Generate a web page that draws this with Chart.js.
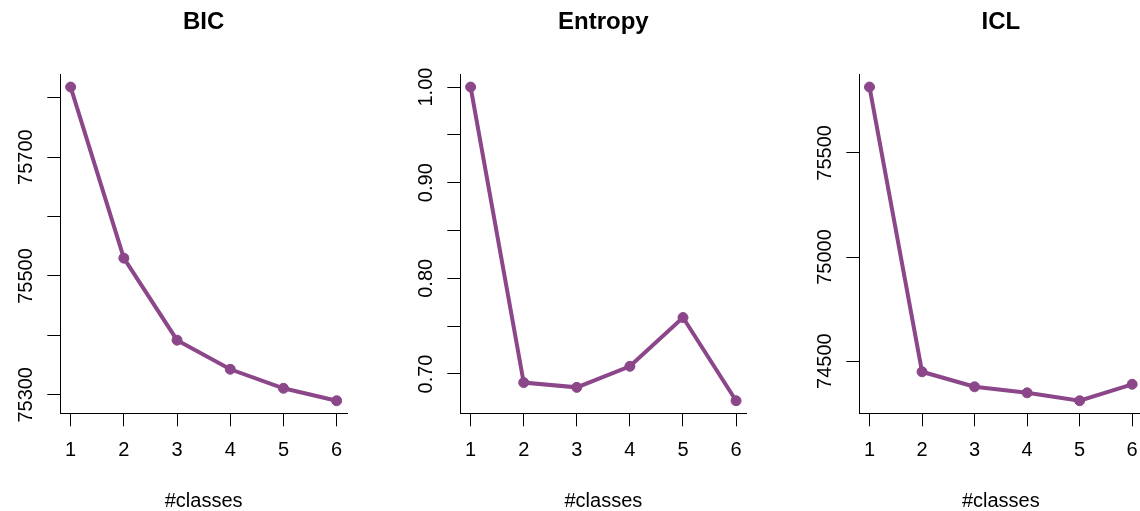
<!DOCTYPE html>
<html>
<head>
<meta charset="utf-8">
<script src="https://cdn.jsdelivr.net/npm/chart.js@4"></script>
<style>
  html, body { margin: 0; padding: 0; background: #fff; overflow: hidden; width: 1140px; height: 511px; }
  canvas { position: absolute; top: 0; }
</style>
</head>
<body>
<canvas id="bic" width="380" height="511" style="left:0px"></canvas>
<canvas id="entropy" width="380" height="511" style="left:380px"></canvas>
<canvas id="icl" width="390" height="511" style="left:760px"></canvas>
<script>
const classes = [1, 2, 3, 4, 5, 6];
const bicValues = [75818, 75530, 75392, 75343, 75311, 75290];
const entropyValues = [1.000, 0.691, 0.686, 0.708, 0.759, 0.672];
const iclValues = [75816, 74449, 74377, 74348, 74310, 74389];

const bicTicks = [75300, 75400, 75500, 75600, 75700, 75800];
const bicLabels = [75300, 75500, 75700];
const entropyTicks = [0.70, 0.75, 0.80, 0.85, 0.90, 0.95, 1.00];
const entropyLabels = [0.70, 0.80, 0.90, 1.00];
const iclTicks = [74500, 75000, 75500];
const iclLabels = [74500, 75000, 75500];

const purple = '#8B4789';
const fontFamily = '"Liberation Sans", Arial, Helvetica, sans-serif';
Chart.defaults.font.family = fontFamily;
Chart.defaults.color = '#000';

// R-style range: data range stretched by 4% on each side
function rRange(vals) {
  const lo = Math.min(...vals), hi = Math.max(...vals);
  const pad = (hi - lo) * 0.04;
  return [lo - pad, hi + pad];
}

// y tick labels drawn parallel to the axis, like base R
const rotLabels = {
  id: 'rotLabels',
  afterDraw(chart, args, opts) {
    const s = chart.scales.y;
    const ctx = chart.ctx;
    ctx.save();
    ctx.fillStyle = '#000';
    ctx.font = '20px ' + fontFamily;
    ctx.textAlign = 'center';
    ctx.textBaseline = 'alphabetic';
    opts.values.forEach(v => {
      ctx.save();
      ctx.translate(s.right - 28.5, s.getPixelForValue(v));
      ctx.rotate(-Math.PI / 2);
      ctx.fillText(v.toFixed(opts.decimals), 0, 0);
      ctx.restore();
    });
    ctx.restore();
  }
};

function makePanel(id, title, values, yTicks, yLabels, decimals, plotLeft, rightPad) {
  const [xMin, xMax] = rRange(classes);
  const [yMin, yMax] = rRange(values);
  const axisGrid = { display: true, drawOnChartArea: false, drawTicks: true, color: '#000', lineWidth: 1 };

  new Chart(document.getElementById(id), {
    type: 'line',
    data: {
      datasets: [{
        data: classes.map((c, i) => ({ x: c, y: values[i] })),
        borderColor: purple,
        backgroundColor: purple,
        borderWidth: 4,
        pointRadius: 5,
        pointBorderWidth: 1,
        tension: 0
      }]
    },
    options: {
      responsive: false,
      animation: false,
      events: [],
      layout: { padding: { left: 0, right: rightPad, top: 0, bottom: 0 } },
      plugins: {
        legend: { display: false },
        tooltip: { enabled: false },
        title: {
          display: true, text: title, fullSize: false, color: '#000',
          font: { size: 24, weight: 'bold', lineHeight: 1.2 },
          padding: { top: 8, bottom: 37.7 }
        },
        rotLabels: { values: yLabels, decimals: decimals }
      },
      scales: {
        x: {
          type: 'linear', min: xMin, max: xMax,
          afterBuildTicks: s => { s.ticks = classes.map(v => ({ value: v })); },
          afterFit: s => { s.height = 97.7; },
          grid: { ...axisGrid, tickLength: 13 },
          border: { display: true, color: '#000', width: 1 },
          ticks: { color: '#000', font: { size: 20 }, padding: 12, maxRotation: 0, autoSkip: false },
          title: { display: true, text: '#classes', color: '#000', font: { size: 20, lineHeight: 1 }, padding: 0 }
        },
        y: {
          type: 'linear', min: yMin, max: yMax,
          afterBuildTicks: s => { s.ticks = yTicks.map(v => ({ value: v })); },
          afterFit: s => { s.width = plotLeft; },
          grid: { ...axisGrid, tickLength: 12.7 },
          border: { display: true, color: '#000', width: 1 },
          ticks: { display: false, autoSkip: false }
        }
      }
    },
    plugins: [rotLabels]
  });
}

makePanel('bic', 'BIC', bicValues, bicTicks, bicLabels, 0, 60, 32.7);
makePanel('entropy', 'Entropy', entropyValues, entropyTicks, entropyLabels, 2, 80, 13.3);
makePanel('icl', 'ICL', iclValues, iclTicks, iclLabels, 0, 99, 3.7);
</script>
</body>
</html>
